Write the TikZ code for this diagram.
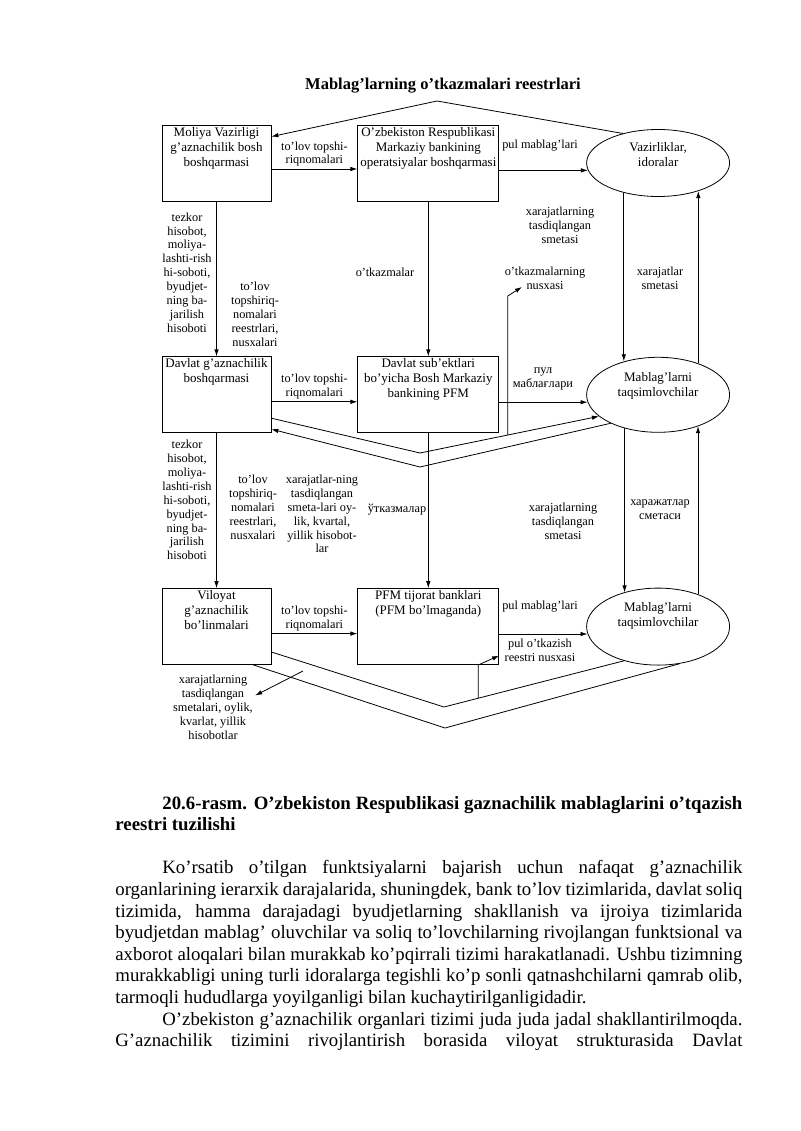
\documentclass[tikz,border=0pt]{standalone}
\usepackage{fontspec}
\setmainfont{Liberation Serif}
\usepackage{tikz}
\usetikzlibrary{arrows.meta, positioning, shapes.geometric, calc}

\tikzset{
	box/.style={draw, minimum width=109pt, minimum height=76pt, inner sep=0pt},
	wbox/.style={box, minimum width=141pt},
	oval/.style={draw, ellipse, minimum width=143pt, inner sep=0pt},
	btxt/.style={anchor=north, align=center, inner sep=2pt, font=\fontsize{13}{15}\selectfont},
	otxt/.style={align=center, inner sep=0pt, font=\fontsize{13}{15}\selectfont},
	lbl/.style={align=center, inner sep=2pt, font=\fontsize{12.3}{13.9}\selectfont},
}

\begin{document}
\begin{tikzpicture}[x=1pt, y=-1pt, line width=0.8pt, >={Latex[length=7pt,width=4.5pt]}]
	\useasboundingbox (0,0) rectangle (800,1131);
	\node[font=\fontsize{16.5}{20}\selectfont\bfseries] (ttl) at (443,86) {Mablag’larning o’tkazmalari reestrlari};

	% boxes and ovals, three rows
	\node[box] (mv) at (216.5,163) {};
	\node[wbox, right=86pt of mv] (mb) {};
	\node[oval, minimum height=67pt, right=87pt of mb] (vi) {};
	\node[box, below=155pt of mv] (dg) {};
	\node[wbox, right=86pt of dg] (pfm) {};
	\node[oval, minimum height=75pt, right=87pt of pfm] (ma) {};
	\node[box, below=155pt of dg] (vg) {};
	\node[wbox, right=86pt of vg] (tb) {};
	\node[oval, minimum height=77pt, right=87pt of tb] (ms) {};

	\node[btxt] (mvt) at (mv.north) {Moliya Vazirligi\\g’aznachilik bosh\\boshqarmasi};
	\node[btxt] (mbt) at (mb.north) {O’zbekiston Respublikasi\\Markaziy bankining\\operatsiyalar boshqarmasi};
	\node[btxt] (dgt) at (dg.north) {Davlat g’aznachilik\\boshqarmasi};
	\node[btxt] (pfmt) at (pfm.north) {Davlat sub’ektlari\\bo’yicha Bosh Markaziy\\bankining PFM};
	\node[btxt] (vgt) at (vg.north) {Viloyat\\g’aznachilik\\bo’linmalari};
	\node[btxt] (tbt) at (tb.north) {PFM tijorat banklari\\(PFM bo’lmaganda)};
	\node[otxt] (vit) at ([yshift=8pt]vi.center) {Vazirliklar,\\idoralar};
	\node[otxt] (mat) at ([yshift=9pt]ma.center) {Mablag’larni\\taqsimlovchilar};
	\node[otxt] (mst) at ([yshift=11pt]ms.center) {Mablag’larni\\taqsimlovchilar};

	\path[->]
	([yshift=-6pt]mv.east) edge node[lbl, above] {to’lov topshi-\\riqnomalari} ([yshift=-6pt]mb.west)
	([yshift=-7pt]dg.east) edge node[lbl, above] {to’lov topshi-\\riqnomalari} ([yshift=-7pt]pfm.west)
	([yshift=-7pt]vg.east) edge node[lbl, above] {to’lov topshi-\\riqnomalari} ([yshift=-7pt]tb.west)
	(mb.east |- vi.186) edge (vi.186)
	(pfm.east |- ma.186) edge (ma.186)
	(tb.east |- ms.186) edge (ms.186)
	(mv) edge (dg)
	(dg) edge (vg)
	(mb) edge (pfm)
	(pfm) edge (tb)
	(vi.221) edge (vi.221 |- ma.135)
	(ma.225) edge (ma.225 |- ms.135)
	(ms.39) edge (ms.39 |- ma.322)
	(ma.38) edge (ma.38 |- vi.325)
	;

	% crossing lines
	\coordinate (ap1) at (437,101);
	\coordinate (apA) at (420,453);
	\coordinate (apB) at (420,467);
	\coordinate (apC) at (444,707);
	\coordinate (apD) at (445,728);
	\draw[->] (vi.140) -- (ap1) -- ([yshift=-12pt]mv.north east);
	\draw[->] ([yshift=15pt]dg.south east) -- (apA) -- (ma.200);
	\draw[->] (ma.211) -- (apB) -- ([yshift=4pt]dg.south east);
	\draw ([yshift=13pt]vg.south east) -- (apC) -- (ms.225);
	\draw ([xshift=37pt]vg.south) -- (apD) -- (ms.300);
	\coordinate (nx) at ($(apA)!0.49!(ma.200)$);
	\coordinate (nxtip) at (522,287);
	\draw[->] (nx) -- ++(0,-139) -- (nxtip);
	\coordinate (px) at ($(apC)!0.19!(ms.225)$);
	\draw[->] (px) -- (px |- tb.south) -- ([yshift=-29pt]tb.east);

	% labels
	\node[lbl] (pm1) at (540,146) {pul mablag’lari};
	\node[lbl] (xs1) at (560,225) {xarajatlarning\\tasdiqlangan\\smetasi};
	\node[lbl] (nxl) at (545,278) {o’tkazmalarning\\nusxasi};
	\node[lbl] (xsm1) at (660,278) {xarajatlar\\smetasi};
	\node[lbl] (otk1) at (385,272) {o’tkazmalar};
	\node[lbl] (tz1) at (187,272.5) {tezkor\\hisobot,\\moliya-\\lashti-rish\\hi-soboti,\\byudjet-\\ning ba-\\jarilish\\hisoboti};
	\node[lbl] (tr1) at (255,314.5) {to’lov\\topshiriq-\\nomalari\\reestrlari,\\nusxalari};
	\node[lbl] (pm2) at (543,379) {пул\\маблағлари};
	\node[lbl] (tz2) at (187,500) {tezkor\\hisobot,\\moliya-\\lashti-rish\\hi-soboti,\\byudjet-\\ning ba-\\jarilish\\hisoboti};
	\node[lbl] (tr2) at (253,507.5) {to’lov\\topshiriq-\\nomalari\\reestrlari,\\nusxalari};
	\node[lbl] (xs2) at (322,514) {xarajatlar-ning\\tasdiqlangan\\smeta-lari oy-\\lik, kvartal,\\yillik hisobot-\\lar};
	\node[lbl] (otk2) at (397,510) {ўтказмалар};
	\node[lbl] (xs3) at (563,521) {xarajatlarning\\tasdiqlangan\\smetasi};
	\node[lbl] (xsm2) at (660,510) {харажатлар\\сметаси};
	\node[lbl] (pm3) at (540,607) {pul mablag’lari};
	\node[lbl] (pr) at (540,650) {pul o’tkazish\\reestri nusxasi};
	\node[lbl] (xl) at (213,707.5) {xarajatlarning\\tasdiqlangan\\smetalari, oylik,\\kvarlat, yillik\\hisobotlar};
	\coordinate (xs) at (303,671);
	\draw[->] (xs) -- ([yshift=12pt]xl.east);

	% caption and text below the figure
	\node[anchor=base west, inner sep=0pt] (txt) at (115,809) {\parbox[t]{627pt}{\fontsize{18.8}{21.6}\selectfont\setlength{\parindent}{47pt}\hyphenpenalty=10000
	{\bfseries 20.6-rasm. O’zbekiston Respublikasi gaznachilik mablaglarini o’tqazish\linebreak reestri tuzilishi\par}
	\vspace{21.6pt}
	Ko’rsatib o’tilgan funktsiyalarni bajarish uchun nafaqat g’aznachilik\linebreak organlarining ierarxik darajalarida, shuningdek, bank to’lov tizimlarida, davlat soliq\linebreak tizimida, hamma darajadagi byudjetlarning shakllanish va ijroiya tizimlarida\linebreak byudjetdan mablag’ oluvchilar va soliq to’lovchilarning rivojlangan funktsional va\linebreak axborot aloqalari bilan murakkab ko’pqirrali tizimi harakatlanadi. Ushbu tizimning\linebreak murakkabligi uning turli idoralarga tegishli ko’p sonli qatnashchilarni qamrab olib,\linebreak tarmoqli hududlarga yoyilganligi bilan kuchaytirilganligidadir.\par
	O’zbekiston g’aznachilik organlari tizimi juda juda jadal shakllantirilmoqda.\linebreak G’aznachilik tizimini rivojlantirish borasida viloyat strukturasida Davlat{\parfillskip=0pt\par}}};
\end{tikzpicture}
\end{document}
